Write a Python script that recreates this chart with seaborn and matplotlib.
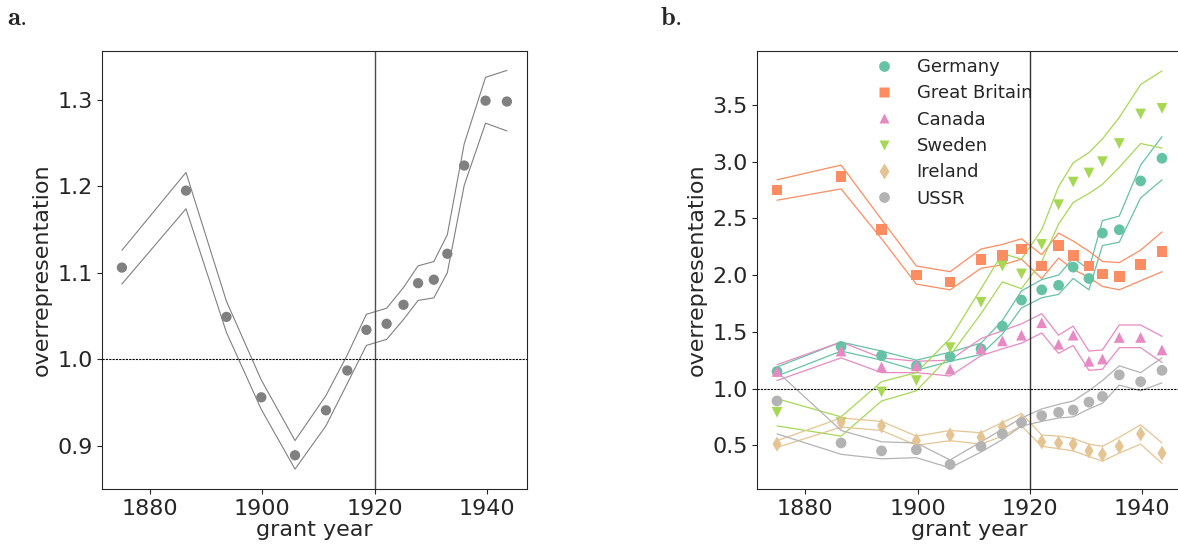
import numpy as np
import pandas as pd
import matplotlib
matplotlib.use("Agg")
import matplotlib.pyplot as plt
import seaborn as sns

# --- data ---
years = [1875, 1886.4, 1893.6, 1899.8, 1905.8, 1911.3, 1915.1, 1918.5,
         1922.1, 1925.1, 1927.7, 1930.5, 1932.9, 1935.9, 1939.7, 1943.5]

# panel a: all countries pooled
all_mean = [1.106, 1.195, 1.049, 0.956, 0.889, 0.941, 0.987, 1.034,
            1.041, 1.063, 1.088, 1.092, 1.122, 1.224, 1.299, 1.298]
all_upper = [1.126, 1.216, 1.067, 0.976, 0.906, 0.958, 1.005, 1.052,
             1.059, 1.083, 1.108, 1.113, 1.144, 1.249, 1.326, 1.334]
all_lower = [1.087, 1.174, 1.031, 0.942, 0.873, 0.923, 0.972, 1.016,
             1.023, 1.046, 1.068, 1.071, 1.100, 1.201, 1.273, 1.264]

# panel b: by country
countries = ["Germany", "Great Britain", "Canada", "Sweden", "Ireland", "USSR"]
germany_mean = [1.15, 1.37, 1.29, 1.20, 1.28, 1.35, 1.55, 1.78, 1.87, 1.91, 2.07, 1.97, 2.37, 2.40, 2.83, 3.03]
germany_upper = [1.19, 1.41, 1.33, 1.25, 1.32, 1.40, 1.60, 1.86, 1.96, 2.00, 2.15, 2.05, 2.48, 2.52, 2.97, 3.22]
germany_lower = [1.11, 1.33, 1.25, 1.16, 1.24, 1.30, 1.48, 1.71, 1.80, 1.83, 1.97, 1.87, 2.26, 2.29, 2.68, 2.84]

gb_mean = [2.75, 2.87, 2.40, 2.00, 1.94, 2.14, 2.17, 2.23, 2.08, 2.26, 2.17, 2.08, 2.01, 1.99, 2.09, 2.21]
gb_upper = [2.84, 2.97, 2.49, 2.08, 2.03, 2.23, 2.27, 2.32, 2.18, 2.37, 2.30, 2.21, 2.12, 2.11, 2.22, 2.38]
gb_lower = [2.66, 2.76, 2.32, 1.92, 1.87, 2.06, 2.09, 2.14, 1.97, 2.15, 2.05, 1.98, 1.90, 1.87, 1.95, 2.03]

canada_mean = [1.15, 1.33, 1.19, 1.20, 1.17, 1.35, 1.42, 1.47, 1.58, 1.39, 1.47, 1.24, 1.26, 1.45, 1.45, 1.34]
canada_upper = [1.21, 1.41, 1.27, 1.24, 1.25, 1.44, 1.51, 1.57, 1.66, 1.47, 1.55, 1.33, 1.34, 1.56, 1.56, 1.46]
canada_lower = [1.07, 1.27, 1.14, 1.14, 1.11, 1.29, 1.35, 1.40, 1.49, 1.31, 1.38, 1.16, 1.17, 1.36, 1.36, 1.23]

sweden_mean = [0.79, 0.70, 0.97, 1.07, 1.36, 1.76, 2.08, 2.01, 2.27, 2.62, 2.82, 2.90, 3.00, 3.16, 3.42, 3.47]
sweden_upper = [0.91, 0.75, 1.06, 1.14, 1.44, 1.88, 2.19, 2.14, 2.40, 2.78, 2.99, 3.08, 3.20, 3.39, 3.68, 3.80]
sweden_lower = [0.67, 0.58, 0.89, 0.98, 1.29, 1.66, 1.94, 1.88, 2.12, 2.45, 2.64, 2.72, 2.80, 2.95, 3.16, 3.12]

ireland_mean = [0.51, 0.70, 0.67, 0.54, 0.59, 0.57, 0.66, 0.71, 0.53, 0.52, 0.51, 0.45, 0.42, 0.49, 0.60, 0.43]
ireland_upper = [0.54, 0.74, 0.71, 0.58, 0.63, 0.61, 0.70, 0.78, 0.59, 0.58, 0.56, 0.51, 0.49, 0.57, 0.68, 0.52]
ireland_lower = [0.48, 0.66, 0.63, 0.50, 0.54, 0.51, 0.58, 0.67, 0.49, 0.47, 0.45, 0.40, 0.36, 0.43, 0.51, 0.34]

ussr_mean = [0.89, 0.52, 0.45, 0.46, 0.33, 0.49, 0.60, 0.70, 0.76, 0.79, 0.81, 0.88, 0.93, 1.12, 1.06, 1.16]
ussr_upper = [1.15, 0.63, 0.53, 0.52, 0.37, 0.53, 0.64, 0.74, 0.82, 0.86, 0.89, 0.98, 1.07, 1.20, 1.14, 1.27]
ussr_lower = [0.60, 0.42, 0.38, 0.39, 0.30, 0.44, 0.55, 0.67, 0.71, 0.74, 0.75, 0.82, 0.87, 1.03, 0.98, 1.05]

series = {
    "Germany": (germany_mean, germany_upper, germany_lower),
    "Great Britain": (gb_mean, gb_upper, gb_lower),
    "Canada": (canada_mean, canada_upper, canada_lower),
    "Sweden": (sweden_mean, sweden_upper, sweden_lower),
    "Ireland": (ireland_mean, ireland_upper, ireland_lower),
    "USSR": (ussr_mean, ussr_upper, ussr_lower),
}

# --- style ---
sns.set_style("ticks")
plt.rcParams["font.family"] = ["DejaVu Sans"]
plt.rcParams["mathtext.fontset"] = "cm"

set2 = sns.color_palette("Set2")
palette = dict(zip(countries, [set2[0], set2[1], set2[3], set2[4], set2[6], set2[7]]))
markers = dict(zip(countries, ["o", "s", "^", "v", "d", "o"]))

# long-form tables
df_a = pd.DataFrame({"year": years * 2, "value": all_upper + all_lower,
                     "bound": ["upper"] * len(years) + ["lower"] * len(years)})
df_a_pts = pd.DataFrame({"year": years, "value": all_mean})

rows_pts, rows_band = [], []
for c in countries:
    m, u, l = series[c]
    for y, v in zip(years, m):
        rows_pts.append((c, y, v))
    for y, v in zip(years, u):
        rows_band.append((c, "upper", y, v))
    for y, v in zip(years, l):
        rows_band.append((c, "lower", y, v))
df_b_pts = pd.DataFrame(rows_pts, columns=["country", "year", "value"])
df_b_band = pd.DataFrame(rows_band, columns=["country", "bound", "year", "value"])

fig = plt.figure(figsize=(11.78, 5.49), dpi=100)
ax_a = fig.add_axes([0.0868, 0.1093, 0.3602, 0.7987])
ax_b = fig.add_axes([0.6429, 0.1093, 0.3602, 0.7987])

##### panel a
sns.lineplot(data=df_a, x="year", y="value", units="bound", estimator=None,
             color="gray", lw=0.8, ax=ax_a)
sns.scatterplot(data=df_a_pts, x="year", y="value", color="gray", s=55,
                edgecolor="none", ax=ax_a, zorder=3)
ax_a.axvline(1920, color="0.3", lw=1.0)
ax_a.axhline(1.0, color="black", ls=(0, (2, 1)), lw=0.8)
ax_a.set_xlim(1871.5, 1947)
ax_a.set_ylim(0.85, 1.357)
ax_a.set_yticks([0.9, 1.0, 1.1, 1.2, 1.3])

##### panel b
sns.lineplot(data=df_b_band, x="year", y="value", hue="country", units="bound",
             estimator=None, palette=palette, lw=0.9, legend=False, ax=ax_b)
sns.scatterplot(data=df_b_pts, x="year", y="value", hue="country", style="country",
                palette=palette, markers=markers, s=60, edgecolor="none",
                ax=ax_b, zorder=3)
ax_b.axvline(1920, color="0.2", lw=1.0)
ax_b.axhline(1.0, color="black", ls=(0, (2, 1)), lw=0.8)
ax_b.set_xlim(1871.5, 1947)
ax_b.set_ylim(0.114, 3.98)
ax_b.set_yticks([0.5, 1.0, 1.5, 2.0, 2.5, 3.0, 3.5])
ax_b.legend(loc="upper center", bbox_to_anchor=(0.452, 1.02), frameon=False,
            fontsize=13, handletextpad=0.8, labelspacing=0.46, markerscale=1.0)

for ax in (ax_a, ax_b):
    ax.set_xticks([1880, 1900, 1920, 1940])
    ax.set_xlabel("grant year", fontsize=16, labelpad=1)
    ax.set_ylabel("overrepresentation", fontsize=16)
    ax.tick_params(labelsize=16)

fig.text(0.006, 0.955, r"$\mathbf{a.}$", fontsize=19)
fig.text(0.560, 0.955, r"$\mathbf{b.}$", fontsize=19)

fig.savefig("out.png", dpi=100)
